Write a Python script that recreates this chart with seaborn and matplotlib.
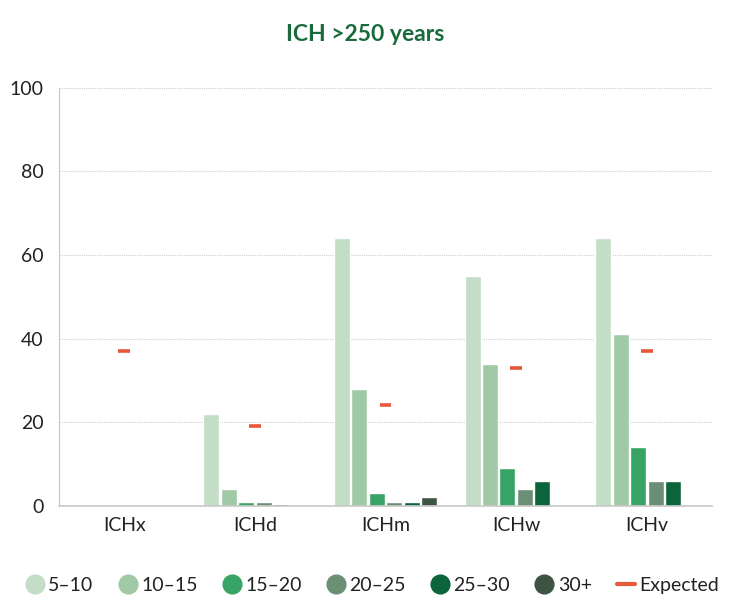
import numpy as np
import pandas as pd
import matplotlib
matplotlib.use("Agg")
import matplotlib.pyplot as plt
from matplotlib.lines import Line2D
import seaborn as sns

groups = ["ICHx", "ICHd", "ICHm", "ICHw", "ICHv"]
bins = ["5–10", "10–15", "15–20", "20–25", "25–30", "30+"]
v_5_10 = [0, 22, 64, 55, 64]
v_10_15 = [0, 4, 28, 34, 41]
v_15_20 = [0, 1, 3, 9, 14]
v_20_25 = [0, 1, 1, 4, 6]
v_25_30 = [0, 0.3, 1, 6, 6]
v_30_plus = [0, 0, 2, 0, 0]
expected = [37, 19, 24, 33, 37]

colors = ["#c4ddc7", "#a0c9a6", "#37a465", "#6b8f74", "#0b643a", "#3d5443"]
expected_color = "#e8573a"
title_color = "#1a6b3c"
text_color = "#222222"

series = [v_5_10, v_10_15, v_15_20, v_20_25, v_25_30, v_30_plus]
rows = []
for b, vals in zip(bins, series):
    for g, v in zip(groups, vals):
        rows.append({"group": g, "bin": b, "value": v})
df = pd.DataFrame(rows)

sns.set_style("white")
plt.rcParams["font.family"] = ["Lato", "DejaVu Sans"]

fig = plt.figure(figsize=(7.35, 6.02), dpi=100)
ax = fig.add_axes([0.080, 0.160, 0.889, 0.694])

sns.barplot(
    data=df, x="group", y="value", hue="bin", order=groups, hue_order=bins,
    palette=colors, width=0.8, gap=0.08, saturation=1, legend=False, ax=ax,
)

# ожидаемые значения — короткие горизонтальные отрезки
xpos = np.arange(len(groups))
ax.hlines(expected, xpos - 0.045, xpos + 0.045, color=expected_color, lw=2.6, zorder=4)

ax.set_ylim(0, 100)
ax.set_yticks([0, 20, 40, 60, 80, 100])
ax.set_xlim(-0.5, len(groups) - 0.5)
ax.set_xlabel("")
ax.set_ylabel("")
ax.yaxis.grid(True, linestyle=(0, (1, 1)), color="#cfcfcf", lw=0.8)
ax.set_axisbelow(True)
for s in ["top", "right"]:
    ax.spines[s].set_visible(False)
ax.spines["left"].set_color("#c8c8c8")
ax.spines["bottom"].set_color("#c8c8c8")
ax.spines["bottom"].set_linewidth(1.2)
ax.tick_params(axis="both", length=0, labelsize=14, colors=text_color)
ax.tick_params(axis="y", pad=11)
ax.tick_params(axis="x", pad=8)

fig.text(0.497, 0.942, "ICH >250 years", ha="center", va="center",
         fontsize=16.5, fontweight="bold", color=title_color)

handles = [Line2D([0], [0], marker="o", ls="none", markersize=13.5,
                  markerfacecolor=c, markeredgecolor=c) for c in colors]
handles.append(Line2D([0], [0], color=expected_color, lw=3))
labels = bins + ["Expected"]
fig.legend(handles, labels, loc="center", bbox_to_anchor=(0.507, 0.028), ncol=7,
           frameon=False, fontsize=14, handlelength=0.9, handletextpad=0.25,
           columnspacing=1.3, labelcolor=text_color)

fig.savefig("out.png", dpi=100)
